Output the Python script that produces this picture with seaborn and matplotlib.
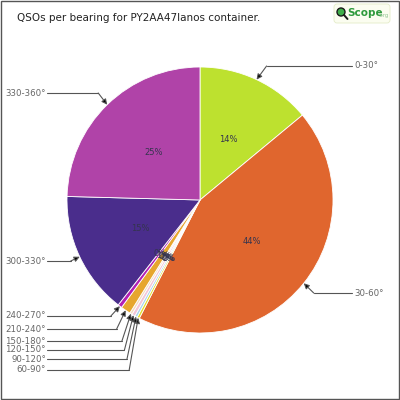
import numpy as np
import matplotlib.pyplot as plt
from matplotlib.patches import FancyBboxPatch, Rectangle, Circle
import seaborn as sns

# bearing sectors and QSO counts
sectors = ["0-30°", "30-60°", "60-90°", "90-120°", "120-150°", "150-180°",
           "210-240°", "240-270°", "300-330°", "330-360°"]
qsos = [140, 436, 3, 3, 4, 3, 12, 5, 149, 246]
colors = ["#bde12f", "#e0662e", "#e6dc2a", "#a9d6ef", "#f3c6d8", "#f4dcc2",
          "#e6a62e", "#b21fb5", "#4a2d8c", "#b043a8"]

# label rows (pixel y) and which side the label sits on
label_y = [66, 293, 370, 359, 350, 341, 329, 316, 261, 93]
label_side = ["R", "R", "L", "L", "L", "L", "L", "L", "L", "L"]

title = "QSOs per bearing for PY2AA47Ianos container."

sns.set_theme(style="white")
plt.rcParams['font.family'] = ['DejaVu Sans']

fig = plt.figure(figsize=(4, 4), dpi=100)
ax = fig.add_axes([0, 0, 1, 1])

cx, cy, R = 200, 200, 133

# y axis inverted so coordinates read like image pixels
ax.pie(
    qsos,
    colors=colors,
    center=(cx, cy),
    radius=R,
    startangle=-90,
    counterclock=True,
    autopct='%1.0f%%',
    pctdistance=0.5,
    textprops=dict(fontsize=6, color="#34344e"),
    wedgeprops=dict(edgecolor="white", linewidth=0.6),
    frame=True,
)
ax.set_xlim(0, 400)
ax.set_ylim(400, 0)
ax.set_aspect('equal')
ax.axis('off')

# labels with elbow lines and arrows pointing at each slice
total = float(sum(qsos))
cum = np.cumsum(qsos) / total
mids = cum - np.array(qsos) / total / 2

for name, f, ly, side in zip(sectors, mids, label_y, label_side):
    phi = np.radians(360 * f)
    tx = cx + R * np.sin(phi)
    ty = cy - R * np.cos(phi)
    if side == "R":
        ex = tx + 10
        ax.plot([ex, 352], [ly, ly], color="#555555", lw=0.8)
        ax.text(354, ly, name, ha="left", va="center", fontsize=6.2, color="#666666")
    else:
        ex = tx - 9
        ax.plot([47, ex], [ly, ly], color="#555555", lw=0.8)
        ax.text(46, ly, name, ha="right", va="center", fontsize=6.2, color="#666666")
    ax.annotate(
        "", xy=(tx, ty), xytext=(ex, ly),
        arrowprops=dict(arrowstyle="-|>", color="#555555", fc="black",
                        lw=0.8, mutation_scale=8, shrinkA=0, shrinkB=0),
    )

# title
ax.text(17, 18, title, ha="left", va="center", fontsize=7.5, color="#222222")

# logo
ax.add_patch(FancyBboxPatch((334, 4), 56, 19, boxstyle="round,pad=0,rounding_size=3",
                            fc="#fbfdf0", ec="#e4ecc8", lw=0.6))
ax.add_patch(Circle((341, 12), 4, fc="#3fae4a", ec="#1a1a1a", lw=1.0))
ax.plot([344, 347.5], [15, 19], color="#1a1a1a", lw=1.4)
ax.text(347, 12.5, "Scope", ha="left", va="center", fontsize=7.5,
        fontweight="bold", color="#2e9a3c")
ax.text(378, 15, ".org", ha="left", va="center", fontsize=3.8, color="#8fc48f")

# border
ax.add_patch(Rectangle((0.5, 0.5), 398, 398, fill=False, ec="#555555", lw=1.0))

fig.savefig("out.png", dpi=100)
